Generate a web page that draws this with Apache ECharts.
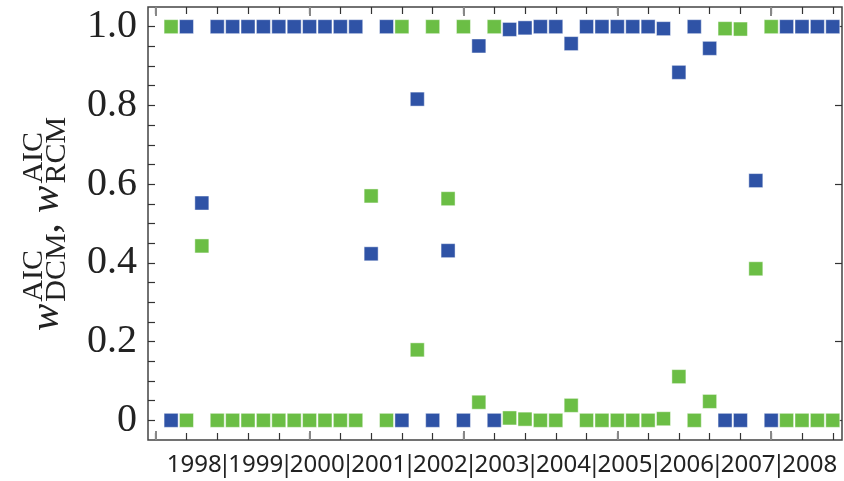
<!DOCTYPE html>
<html>
<head>
<meta charset="utf-8">
<script src="https://cdn.jsdelivr.net/npm/echarts@6/dist/echarts.min.js"></script>
<style>
html,body{margin:0;padding:0;background:#fff;}
#chart{width:844px;height:481px;}
</style>
</head>
<body>
<div id="chart"></div>
<script>
// ---- data (quarterly, 1998 Q1 .. 2008 Q4) ----
const years = ['1998','1999','2000','2001','2002','2003','2004','2005','2006','2007','2008'];
const blueValues = [
  0, 1, 0.552, 1,
  1, 1, 1, 1,
  1, 1, 1, 1,
  1, 0.423, 1, 0,
  0.816, 0, 0.431, 0,
  0.951, 0, 0.993, 0.997,
  1, 1, 0.957, 1,
  1, 1, 1, 1,
  0.995, 0.884, 1, 0.945,
  0, 0, 0.609, 0,
  1, 1, 1, 1
];
const greenValues = [
  1, 0, 0.443, 0,
  0, 0, 0, 0,
  0, 0, 0, 0,
  0, 0.570, 0, 1,
  0.179, 1, 0.563, 1,
  0.046, 1, 0.006, 0.003,
  0, 0, 0.038, 0,
  0, 0, 0, 0,
  0.004, 0.111, 0, 0.048,
  0.995, 0.994, 0.385, 1,
  0, 0, 0, 0
];
const yLabelValues = [0, 0.2, 0.4, 0.6, 0.8, 1.0];

// ---- derived helpers ----
const nQ = blueValues.length;
const xMinorTicks = [];
for (let v = -1; v <= nQ; v += 2) xMinorTicks.push(v);
const xMajorTicks = [];
for (let v = -1; v <= nQ; v += 10) xMajorTicks.push(v);
const yearPos = years.map((y, j) => j * 4 + 1.5);
const sepPos = years.slice(1).map((y, j) => j * 4 + 3.5);
const yMinorTicks = [];
for (let i = 0; i <= 20; i++) yMinorTicks.push(+(i * 0.05).toFixed(2));

const blueData = blueValues.map((v, i) => [i, v]);
const greenData = greenValues.map((v, i) => [i, v]);

const X_MIN = -1.5, X_MAX = 43.6, Y_MIN = -0.05, Y_MAX = 1.05;
const BLUE = '#2f53a6', GREEN = '#6bbe45';
const LABEL_FONT = '"Noto Sans", "Open Sans", sans-serif';

function xAxisCfg(pos, ticks, len, color, width, labelPos, labelFn) {
  return {
    type: 'value', position: pos, min: X_MIN, max: X_MAX,
    axisLine: { show: false, onZero: false }, splitLine: { show: false },
    axisTick: ticks ? { show: true, inside: true, length: len, customValues: ticks,
      lineStyle: { color: color, width: width } } : { show: false },
    axisLabel: labelPos ? {
      show: true, customValues: labelPos, margin: 13,
      showMinLabel: true, showMaxLabel: true, hideOverlap: false,
      fontFamily: LABEL_FONT, fontSize: 24, color: '#222',
      formatter: labelFn
    } : { show: false }
  };
}

const chart = echarts.init(document.getElementById('chart'), null, { renderer: 'canvas' });

// y-axis title pieces, laid out along the (rotated) reading direction
const ctx = document.createElement('canvas').getContext('2d');
function tw(font, s) { ctx.font = font; return ctx.measureText(s).width; }
const M = 41, S = 30;
const fMain = 'italic ' + M + 'px "Liberation Serif"';
const fRoman = M + 'px "Liberation Serif"';
const fScript = S + 'px "Liberation Serif"';
const SUP = -17, SUB = 6; // baseline offsets (local, + = down in text frame)
const pieces = [];
let lx = 0;
function piece(text, font, x, base, fs) {
  pieces.push({ type: 'text', x: x, y: base - 0.33 * fs,
    style: { text: text, font: font, fill: '#222', verticalAlign: 'middle', align: 'left' } });
}
piece('w', fMain, lx, 0, M); lx += tw(fMain, 'w') + 2;
piece('AIC', fScript, lx, SUP, S); piece('DCM', fScript, lx, SUB, S);
lx += Math.max(tw(fScript, 'AIC'), tw(fScript, 'DCM'));
piece(',', fRoman, lx, 0, M); lx += tw(fRoman, ', ');
piece('w', fMain, lx, 0, M); lx += tw(fMain, 'w') + 2;
piece('AIC', fScript, lx, SUP, S); piece('RCM', fScript, lx, SUB, S);
lx += Math.max(tw(fScript, 'AIC'), tw(fScript, 'RCM'));
const titleLen = lx;

const option = {
  animation: false,
  backgroundColor: '#fff',
  grid: { left: 148, right: 2, top: 7, bottom: 41, show: true,
    borderColor: '#444', borderWidth: 1.5, backgroundColor: 'transparent' },
  xAxis: [
    xAxisCfg('bottom', xMinorTicks, 7, '#333', 1.2, yearPos,
      function (v) { return years[Math.round((v - 1.5) / 4)]; }),
    xAxisCfg('bottom', xMajorTicks, 9, '#888', 2, null, null),
    xAxisCfg('top', xMinorTicks, 7, '#333', 1.2, null, null),
    xAxisCfg('top', xMajorTicks, 9, '#888', 2, null, null),
    xAxisCfg('bottom', null, 0, '#333', 1, sepPos, function () { return '|'; })
  ],
  yAxis: [
    { type: 'value', position: 'left', min: Y_MIN, max: Y_MAX,
      axisLine: { show: false, onZero: false }, splitLine: { show: false },
      axisTick: { show: true, inside: true, length: 7, customValues: yMinorTicks,
        lineStyle: { color: '#333', width: 1.2 } },
      axisLabel: { show: true, customValues: yLabelValues, margin: 11,
        showMinLabel: true, showMaxLabel: true,
        fontFamily: '"Liberation Serif", serif', fontSize: 40, color: '#222',
        formatter: function (v) { return v === 0 ? '0' : v.toFixed(1); } } },
    { type: 'value', position: 'right', min: Y_MIN, max: Y_MAX,
      axisLine: { show: false, onZero: false }, splitLine: { show: false },
      axisTick: { show: true, inside: true, length: 7, customValues: yLabelValues,
        lineStyle: { color: '#333', width: 1.2 } },
      axisLabel: { show: false } }
  ],
  graphic: [{
    type: 'group', x: 61, y: 224 + titleLen / 2, rotation: Math.PI / 2,
    children: pieces
  }],
  series: [
    { name: 'DCM', type: 'scatter', xAxisIndex: 0, yAxisIndex: 0, data: greenData,
      symbol: 'rect', symbolSize: 14,
      itemStyle: { color: GREEN, borderColor: 'rgba(255,255,255,0.45)', borderWidth: 1, opacity: 1 } },
    { name: 'RCM', type: 'scatter', xAxisIndex: 0, yAxisIndex: 0, data: blueData,
      symbol: 'rect', symbolSize: 14,
      itemStyle: { color: BLUE, borderColor: 'rgba(255,255,255,0.45)', borderWidth: 1, opacity: 1 } }
  ]
};
chart.setOption(option);
</script>
</body>
</html>
